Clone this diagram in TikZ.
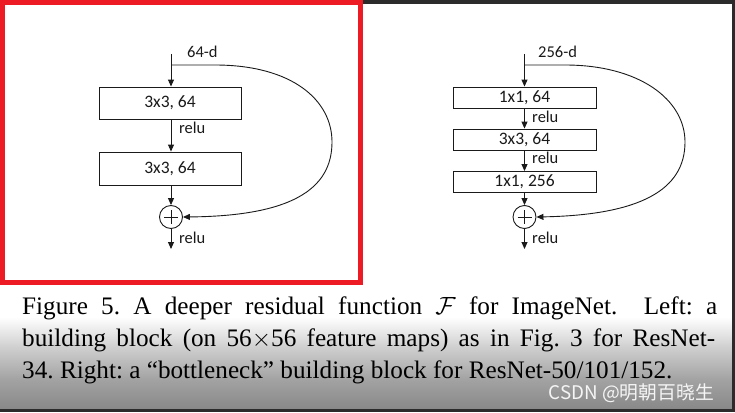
\documentclass[tikz,border=0pt]{standalone}
\usepackage{fontspec}
\setmainfont{Liberation Serif}
\newfontfamily\calfont{Carlito}
\newfontfamily\cjkfont{Noto Sans CJK SC}
\usetikzlibrary{arrows.meta}
\definecolor{redframe}{HTML}{ED1C24}
\definecolor{darkstrip}{HTML}{2B2B2B}
\definecolor{inkc}{HTML}{1A1A1A}
\definecolor{gone}{HTML}{D2D2D2}
\definecolor{gtwo}{HTML}{A4A4A4}
\definecolor{gbot}{HTML}{888888}
\tikzset{
  blk/.style={draw=inkc, line width=0.9pt, fill=white, inner sep=0pt, font=\calfont\fontsize{17.5}{17.5}\selectfont, text=inkc},
  lbl/.style={inner sep=0pt, font=\calfont\fontsize{16.5}{16.5}\selectfont, text=inkc},
  sumnode/.style={draw=inkc, line width=0.9pt, circle, minimum size=23pt, inner sep=0pt},
  arr/.style={draw=inkc, line width=0.9pt, -{Triangle[length=7pt,width=6pt]}},
  capline/.style={inner sep=0pt, anchor=base west, font=\fontsize{25.2}{32}\selectfont\frenchspacing, text=black},
}
\begin{document}
\begin{tikzpicture}[x=1pt,y=-1pt]
\useasboundingbox (0,0) rectangle (735,412);
\fill[white] (0,0) rectangle (735,412);
\shade[top color=white, bottom color=gone] (0,317) rectangle (735,345.5);
\shade[top color=gone, bottom color=gtwo] (0,345) rectangle (735,378.5);
\shade[top color=gtwo, bottom color=gbot] (0,378) rectangle (735,409);
\fill[darkstrip] (0,409) rectangle (735,412);
\fill[darkstrip] (363,0) rectangle (735,4);
\fill[darkstrip] (732,0) rectangle (735,412);
\draw[redframe, line width=5pt] (2.5,2.5) rectangle (360.5,282.5);

% left block
\coordinate (Lin) at (171,54);
\coordinate (Lbr) at (171,65);
\node[lbl, anchor=west] (Ld) at (187,52) {64-d};
\node[blk, minimum width=142pt, minimum height=32pt] (L1) at (170,103) {3x3, 64};
\node[blk, minimum width=142pt, minimum height=33pt] (L2) at (170,168.5) {3x3, 64};
\node[sumnode] (Ls) at (171,217) {};
\coordinate (Lout) at (171,249);
\draw[inkc, line width=0.9pt] (Ls.center) +(-7,0) -- +(7,0);
\draw[inkc, line width=0.9pt] (Ls.center) +(0,-7) -- +(0,7);
\draw[arr] (Lin) -- (Lin |- L1.north);
\draw[arr] (Lin |- L1.south) -- (Lin |- L2.north);
\draw[arr] (Lin |- L2.south) -- (Ls.north);
\draw[arr] (Ls.south) -- (Lout);
\node[lbl, anchor=west] (Lr1) at (179,128) {relu};
\node[lbl, anchor=west] (Lr2) at (179,238) {relu};
\draw[arr] (Lbr) -- (215,65) .. controls (292,65) and (332,100) .. (332,142) .. controls (332,190) and (290,216) .. (Ls.east);

% right block
\coordinate (Rin) at (524.5,54);
\coordinate (Rbr) at (524.5,65);
\node[lbl, anchor=west] (Rd) at (538,52) {256-d};
\node[blk, minimum width=143pt, minimum height=21pt] (R1) at (524.5,97.5) {1x1, 64};
\node[blk, minimum width=143pt, minimum height=21pt] (R2) at (524.5,139.5) {3x3, 64};
\node[blk, minimum width=143pt, minimum height=21pt] (R3) at (524.5,182) {1x1, 256};
\node[sumnode] (Rs) at (524.5,217) {};
\coordinate (Rout) at (524.5,249);
\draw[inkc, line width=0.9pt] (Rs.center) +(-7,0) -- +(7,0);
\draw[inkc, line width=0.9pt] (Rs.center) +(0,-7) -- +(0,7);
\draw[arr] (Rin) -- (Rin |- R1.north);
\draw[arr] (Rin |- R1.south) -- (Rin |- R2.north);
\draw[arr] (Rin |- R2.south) -- (Rin |- R3.north);
\draw[arr] (Rin |- R3.south) -- (Rs.north);
\draw[arr] (Rs.south) -- (Rout);
\node[lbl, anchor=west] (Rr1) at (532,117) {relu};
\node[lbl, anchor=west] (Rr2) at (532,158) {relu};
\node[lbl, anchor=west] (Rr3) at (532,238) {relu};
\draw[arr] (Rbr) -- (565,65) .. controls (640,65) and (685,100) .. (685,142) .. controls (685,190) and (640,215) .. (Rs.east);

% caption
\node[capline] (C1) at (22,314) {\makebox[695pt][s]{Figure 5. A deeper residual function $\mathcal{F}$ for ImageNet.\ \ Left: a}};
\node[capline] (C2) at (22,346.5) {\makebox[693pt][s]{building block (on 56$\times$56 feature maps) as in Fig. 3 for ResNet-}};
\node[capline] (C3) at (22,378) {34. Right: a “bottleneck” building block for ResNet-50/101/152.};

% watermark
\node[inner sep=0pt, anchor=east, font=\cjkfont\fontsize{18.8}{18.8}\selectfont, text=white!92!gray] (W) at (714,393.5) {CSDN @明朝百晓生};
\end{tikzpicture}
\end{document}
